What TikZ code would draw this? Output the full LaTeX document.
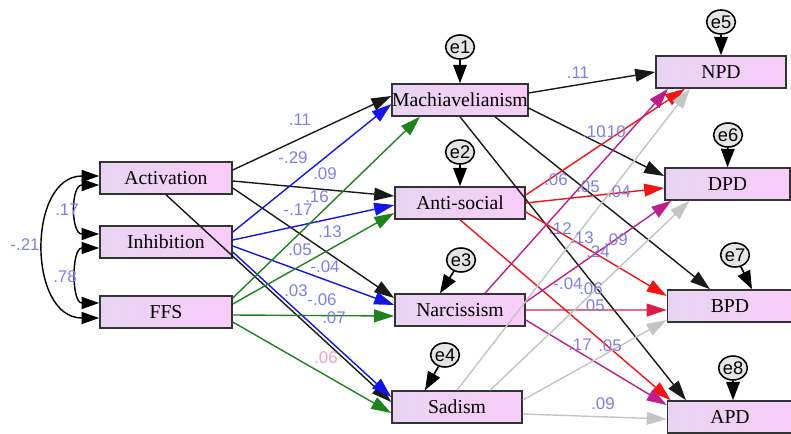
\documentclass[tikz,border=0pt]{standalone}
\usepackage{fontspec}
\setmainfont{Liberation Serif}
\setsansfont{Liberation Sans}
\usepackage{xcolor}
\usetikzlibrary{arrows.meta, shapes.geometric}

\definecolor{boxl}{RGB}{232,212,242}
\definecolor{boxr}{RGB}{248,204,248}
\definecolor{lblc}{RGB}{128,128,226}
\definecolor{lblp}{RGB}{242,160,200}
\definecolor{blu}{RGB}{20,20,230}
\definecolor{grn}{RGB}{30,130,30}
\definecolor{rd}{RGB}{240,20,20}
\definecolor{mag}{RGB}{190,30,140}
\definecolor{crm}{RGB}{220,30,70}
\definecolor{gry}{RGB}{196,196,196}

\begin{document}
\begin{tikzpicture}[x=0.025cm, y=-0.025cm,
	var/.style={draw=black!80, line width=1.1pt, left color=boxl, right color=boxr,
		minimum width=3.3cm, minimum height=0.8cm, inner sep=0pt,
		font=\fontsize{14}{16}\selectfont},
	err/.style={ellipse, draw, line width=1.1pt, fill=black!10, minimum width=0.72cm,
		minimum height=0.6cm, inner sep=0pt, font=\sffamily\fontsize{13}{14}\selectfont},
	pth/.style={line width=1pt, -{Triangle[length=5mm, width=3.2mm]}},
	cov/.style={line width=1pt, {Triangle[length=4.4mm, width=3mm]}-{Triangle[length=4.4mm, width=3mm]}},
	erp/.style={line width=1.2pt, -{Triangle[length=4.6mm, width=3.4mm]}},
	lbl/.style={font=\sffamily\fontsize{12}{13}\selectfont, text=lblc, inner sep=0pt}]
	\useasboundingbox (0,0) rectangle (791,434);

	% exogenous variables
	\node[var] (act) at (166,178) {Activation};
	\node[var] (inh) at (166,242) {Inhibition};
	\node[var] (ffs) at (166,312) {FFS};

	% dark triad
	\node[var, minimum width=3.25cm] (mach) at (460,100) {Machiavelianism};
	\node[var, minimum width=3.25cm] (anti) at (460,203) {Anti-social};
	\node[var, minimum width=3.25cm] (narc) at (460,310) {Narcissism};
	\node[var, minimum width=3.25cm] (sad) at (457,407) {Sadism};

	% disorders
	\node[var, minimum width=3.25cm] (npd) at (721,72) {NPD};
	\node[var, minimum width=3.125cm] (dpd) at (727.5,184) {DPD};
	\node[var, minimum width=3.125cm] (bpd) at (730,306) {BPD};
	\node[var, minimum width=3.125cm] (apd) at (730,417) {APD};

	% error terms
	\node[err] (e1) at (460,47) {e1};
	\node[err] (e2) at (460,152) {e2};
	\node[err] (e3) at (461,260) {e3};
	\node[err] (e4) at (445,355) {e4};
	\node[err] (e5) at (721,22) {e5};
	\node[err] (e6) at (728,135) {e6};
	\node[err] (e7) at (735,255) {e7};
	\node[err] (e8) at (733,368) {e8};

	\draw[erp] (e1) -- (mach.north);
	\draw[erp] (e2) -- (anti.north);
	\draw[erp] (e3) -- ([xshift=-5mm]narc.north);
	\draw[erp] (e4) -- ([xshift=-8mm]sad.north);
	\draw[erp] (e5) -- (npd.north);
	\draw[erp] (e6) -- (dpd.north);
	\draw[erp] (e7) -- ([xshift=5.5mm]bpd.north);
	\draw[erp] (e8) -- ([xshift=0.75mm]apd.north);

	% covariances
	\draw[cov] ([yshift=-1.75mm]act.west) to[out=180, in=180, looseness=1.5] ([yshift=2mm]inh.west);
	\draw[cov] ([yshift=-1.5mm]inh.west) to[out=180, in=180, looseness=1.3] ([yshift=2.25mm]ffs.west);
	\draw[cov] ([yshift=0.5mm]act.west) to[out=180, in=180, looseness=1.3] ([yshift=-1.5mm]ffs.west);

	% Activation paths
	\draw[pth, black!90] ([yshift=2mm]act.east) -- ([yshift=1mm]mach.west);
	\draw[pth, black!90] ([yshift=-0.75mm]act.east) -- ([yshift=1.75mm]anti.west);
	\draw[pth, black!90] ([yshift=-2.5mm]act.east) -- ([yshift=3mm]narc.west);
	\draw[pth, black!90] (act.south) -- ([yshift=1.25mm]sad.west);

	% Inhibition paths
	\draw[pth, blu] ([yshift=2.5mm]inh.east) -- ([yshift=-1mm]mach.west);
	\draw[pth, blu] ([yshift=0.5mm]inh.east) -- ([yshift=-0.5mm]anti.west);
	\draw[pth, blu] ([yshift=-1mm]inh.east) -- ([yshift=1.25mm]narc.west);
	\draw[pth, blu] ([yshift=-2.5mm]inh.east) -- ([yshift=2.5mm]sad.west);

	% FFS paths
	\draw[pth, grn] ([yshift=3.5mm]ffs.east) -- ([xshift=-10mm]mach.south);
	\draw[pth, grn] ([yshift=2mm]ffs.east) -- ([yshift=-2.5mm]anti.west);
	\draw[pth, grn] ([yshift=-0.75mm]ffs.east) -- ([yshift=-1.5mm]narc.west);
	\draw[pth, grn] ([yshift=-2.5mm]ffs.east) -- ([yshift=-1.5mm]sad.west);

	% Machiavelianism paths
	\draw[pth, black!90] ([yshift=1.75mm]mach.east) -- (npd.west);
	\draw[pth, black!90] ([yshift=-2mm]mach.east) -- ([yshift=2mm]dpd.west);
	\draw[pth, black!90] ([xshift=8.75mm]mach.south) -- ([xshift=-5mm]bpd.north);
	\draw[pth, black!90] (mach.south) -- ([xshift=-11mm]apd.north);

	% Anti-social paths
	\draw[pth, rd] ([yshift=2mm]anti.east) -- ([xshift=-9mm]npd.south);
	\draw[pth, rd] (anti.east) -- ([yshift=-1mm]dpd.west);
	\draw[pth, rd] ([yshift=-2.25mm]anti.east) -- ([yshift=2.5mm]bpd.west);
	\draw[pth, rd] (anti.south) -- ([xshift=1mm]apd.north west);

	% Narcissism paths
	\draw[pth, mag] ([xshift=6.25mm]narc.north) -- ([xshift=-13.25mm]npd.south);
	\draw[pth, mag] ([yshift=2mm]narc.east) -- ([xshift=-14mm]dpd.south);
	\draw[pth, crm] (narc.east) -- ([yshift=-1mm]bpd.west);
	\draw[pth, mag] ([yshift=-2.5mm]narc.east) -- ([yshift=3mm]apd.west);

	% Sadism paths
	\draw[pth, gry] (sad.north) -- ([xshift=-7.75mm]npd.south);
	\draw[pth, gry] ([xshift=8.25mm]sad.north) -- ([xshift=-9.5mm]dpd.south);
	\draw[pth, gry] ([yshift=1.75mm]sad.east) -- ([yshift=-3.5mm]bpd.west);
	\draw[pth, gry] ([yshift=-1.75mm]sad.east) -- ([yshift=-0.5mm]apd.west);

	% estimates
	\node[lbl] (c1) at (67,210) {.17};
	\node[lbl] (c2) at (25,245) {-.21};
	\node[lbl] (c3) at (65,277) {.78};

	\node[lbl] (l1) at (300,120) {.11};
	\node[lbl] (l2) at (293,158) {-.29};
	\node[lbl] (l3) at (325,174) {.09};
	\node[lbl] (l4) at (317,197) {.16};
	\node[lbl] (l5) at (298,210) {-.17};
	\node[lbl] (l6) at (330,232) {.13};
	\node[lbl] (l7) at (300,250) {.05};
	\node[lbl] (l8) at (325,267) {-.04};
	\node[lbl] (l9) at (296,291) {.03};
	\node[lbl] (l10) at (322,300) {-.06};
	\node[lbl] (l11) at (334,318) {.07};
	\node[lbl, text=lblp] (l12) at (326,358) {.06};

	\node[lbl] (l13) at (578,73) {.11};
	\node[lbl] (l14) at (594,132) {.10};
	\node[lbl] (l15) at (614,132) {.10};
	\node[lbl] (l16) at (556,180) {.06};
	\node[lbl] (l17) at (588,187) {.05};
	\node[lbl] (l18) at (619,192) {.04};
	\node[lbl] (l19) at (560,229) {.12};
	\node[lbl] (l20) at (582,238) {.13};
	\node[lbl] (l21) at (598,252) {.24};
	\node[lbl] (l22) at (616,240) {.09};
	\node[lbl] (l23) at (568,284) {-.04};
	\node[lbl] (l24) at (591,289) {.06};
	\node[lbl] (l25) at (593,306) {.05};
	\node[lbl] (l26) at (580,345) {.17};
	\node[lbl] (l27) at (610,346) {.05};
	\node[lbl] (l28) at (603,404) {.09};
\end{tikzpicture}
\end{document}
